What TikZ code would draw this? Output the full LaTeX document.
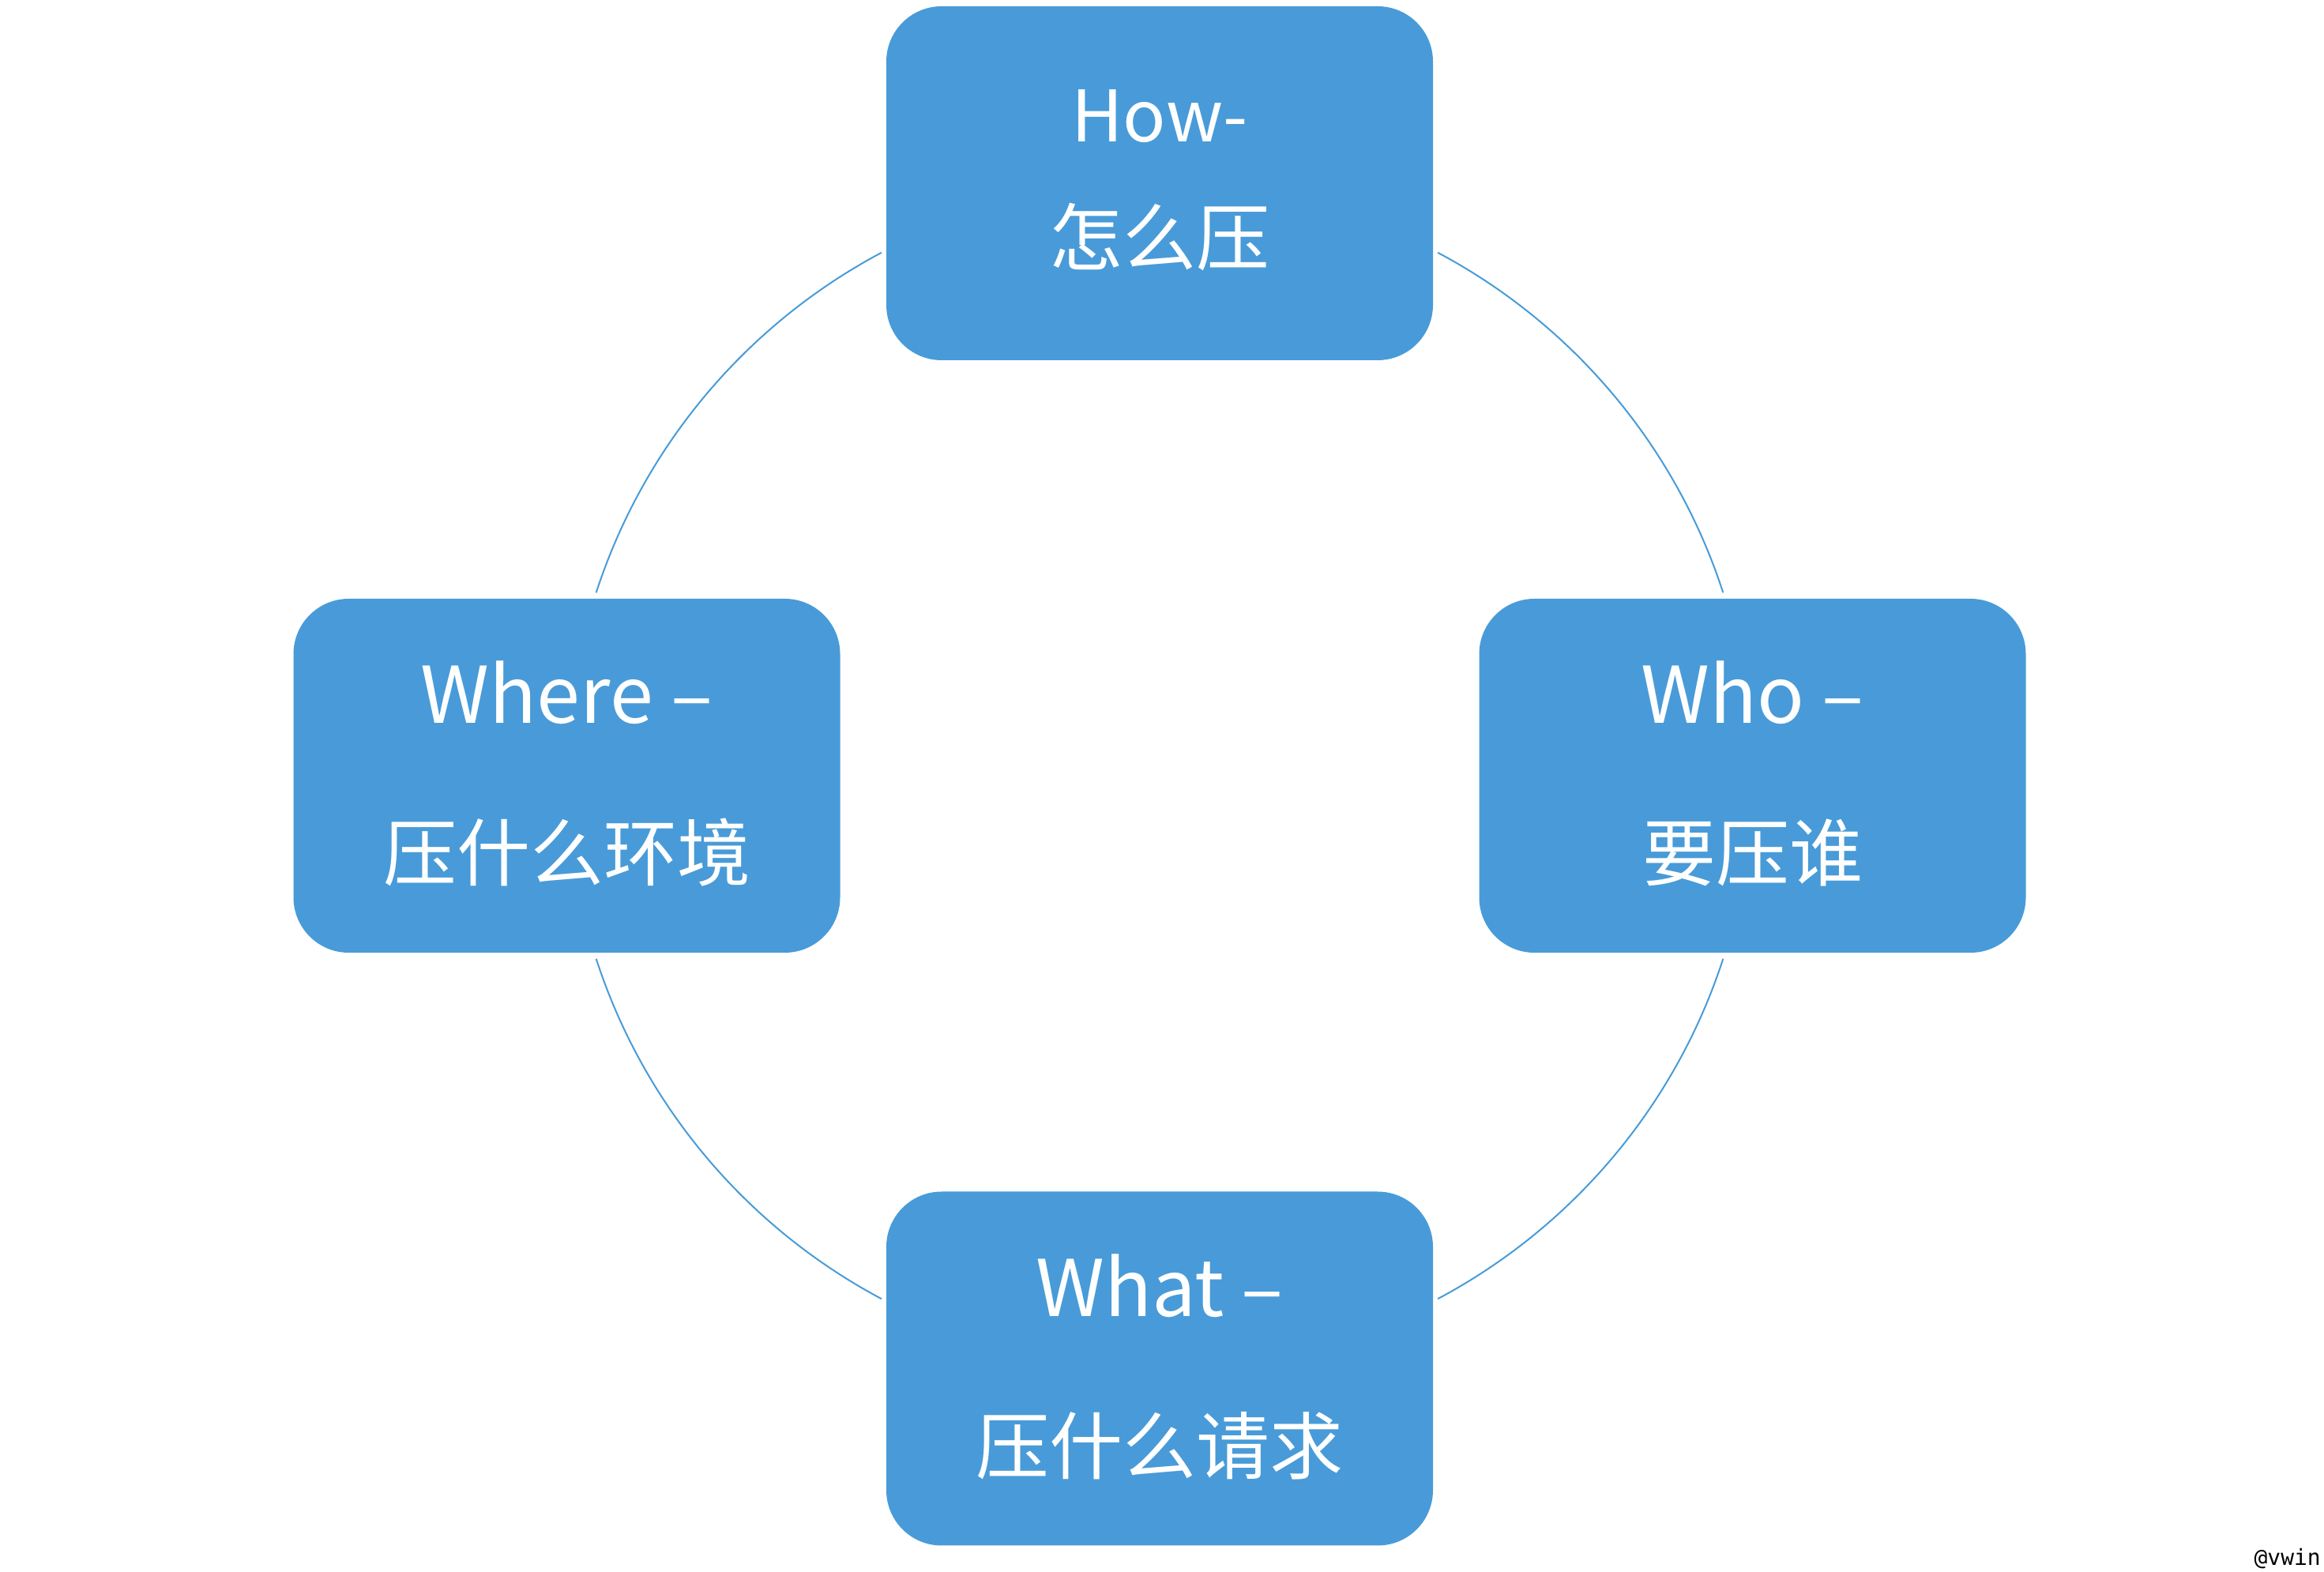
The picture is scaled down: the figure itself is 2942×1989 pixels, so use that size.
\documentclass[tikz,border=0pt]{standalone}
\usepackage{fontspec}
\setmainfont{Noto Sans CJK SC}
\setmonofont{DejaVu Sans Mono}
\definecolor{boxblue}{RGB}{72,155,216}
\begin{document}
\begin{tikzpicture}[x=1pt,y=1pt,
  stepbox/.style={fill=boxblue, rounded corners=70pt, minimum width=692pt, minimum height=448pt, inner sep=0pt},
  lbl/.style={text=white, anchor=base, inner sep=0pt, font=\fontsize{99}{99}\selectfont},
  cjklbl/.style={lbl, font=\fontsize{93}{93}\selectfont},
  lblsm/.style={lbl, font=\fontsize{90}{90}\selectfont},
  ring/.style={draw=boxblue, line width=2pt}]
\useasboundingbox (0,0) rectangle (2942,1989);
\coordinate (c) at (1468,1007);
% boxes
\node[stepbox] (how) at (1468,1757) {};
\node[stepbox] (where) at (717.5,1007) {};
\node[stepbox] (who) at (2218.5,1007) {};
\node[stepbox] (what) at (1468,256.5) {};
% texts
\node[lblsm] (howa) at ([yshift=52pt]how.center) {How-};
\node[cjklbl] (howb) at ([yshift=-104pt]how.center) {怎么压};
\node[lbl] (wherea) at ([yshift=66pt]where.center) {Where –};
\node[cjklbl] (whereb) at ([yshift=-133pt]where.center) {压什么环境};
\node[lbl] (whoa) at ([yshift=66pt]who.center) {Who –};
\node[cjklbl] (whob) at ([yshift=-133pt]who.center) {要压谁};
\node[lbl] (whata) at ([yshift=66pt]what.center) {What –};
\node[cjklbl] (whatb) at ([yshift=-133pt]what.center) {压什么请求};
% ring arcs
\draw[ring] ([shift={(18:750)}]c) arc[start angle=18, end angle=62, radius=750];
\draw[ring] ([shift={(118:750)}]c) arc[start angle=118, end angle=162, radius=750];
\draw[ring] ([shift={(198:750)}]c) arc[start angle=198, end angle=242, radius=750];
\draw[ring] ([shift={(298:750)}]c) arc[start angle=298, end angle=342, radius=750];
% watermark
\node[anchor=base east, inner sep=0pt, font=\ttfamily\fontsize{28}{28}\selectfont] (wm) at (2938,8) {@vwin};
\end{tikzpicture}
\end{document}
